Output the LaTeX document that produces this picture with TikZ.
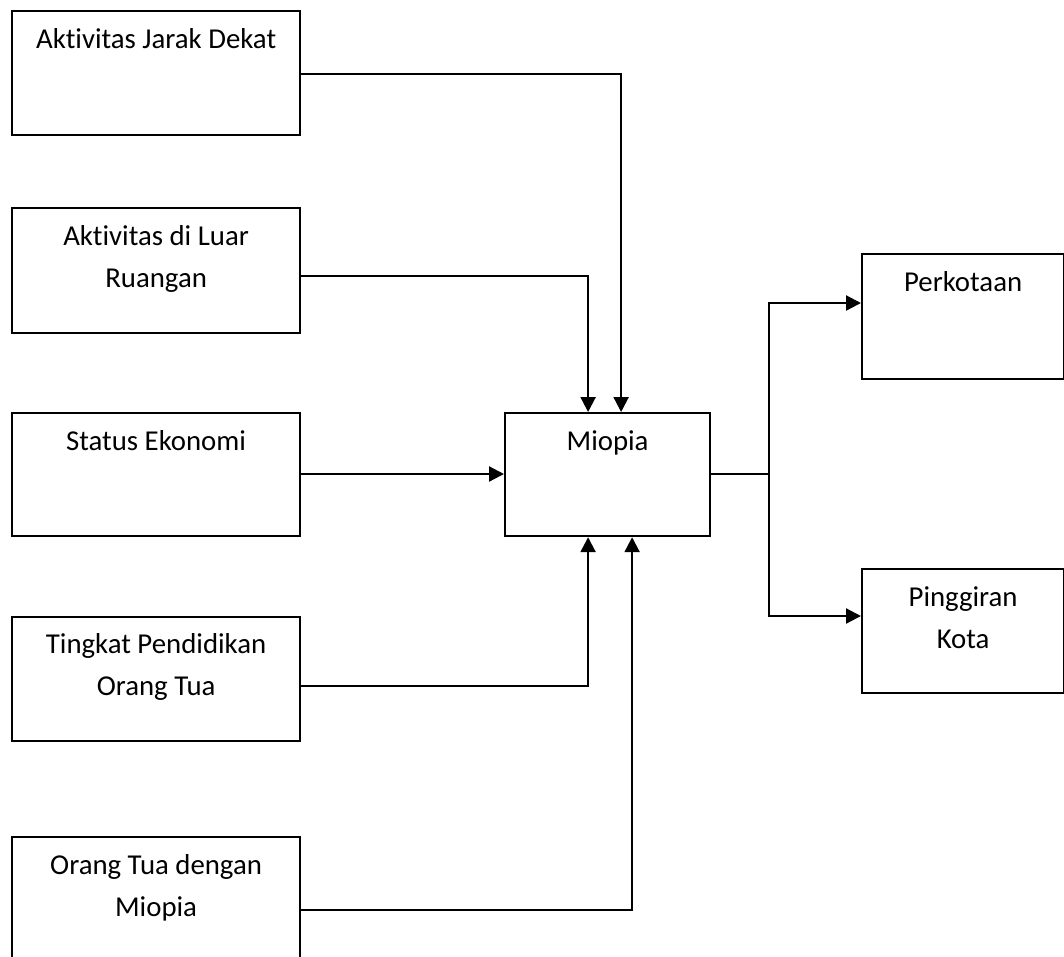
\documentclass[tikz,border=0pt]{standalone}
\usepackage{fontspec}
\setmainfont{Carlito}[RawFeature={-liga;-clig;-dlig}]
\usetikzlibrary{arrows.meta}
\begin{document}
\begin{tikzpicture}[x=1pt,y=-1pt,
  box/.style={draw, line width=2.2pt, inner sep=0pt, anchor=north west},
  lbl/.style={font=\fontsize{28.8}{42}\selectfont, align=center, anchor=base, inner sep=0pt},
  conn/.style={line width=2.2pt},
  arr/.style={conn, -{Triangle[length=15pt,width=15pt]}}]
\useasboundingbox (0,0) rectangle (1064,956);
\clip (0,0) rectangle (1064,956);

% left boxes
\node[box, minimum width=288pt, minimum height=124pt] (b1) at (11,10) {};
\node[box, minimum width=288pt, minimum height=125pt] (b2) at (11,207) {};
\node[box, minimum width=288pt, minimum height=123pt] (b3) at (11,412) {};
\node[box, minimum width=288pt, minimum height=124pt] (b4) at (11,616) {};
\node[box, minimum width=288pt, minimum height=130pt] (b5) at (11,836) {};
% centre and right boxes
\node[box, minimum width=205pt, minimum height=123pt] (mi) at (504,412) {};
\node[box, minimum width=202pt, minimum height=125pt] (pk) at (861,253) {};
\node[box, minimum width=202pt, minimum height=124pt] (pg) at (861,568) {};

% labels (base anchor = baseline of the last line)
\node[lbl] (t1) at ([yshift=-38.5pt]b1.north) {Aktivitas Jarak Dekat};
\node[lbl] (t2) at ([yshift=-80.5pt]b2.north) {Aktivitas di Luar\\Ruangan};
\node[lbl] (t3) at ([yshift=-38.5pt]b3.north) {Status Ekonomi};
\node[lbl] (t4) at ([yshift=-79.5pt]b4.north) {Tingkat Pendidikan\\Orang Tua};
\node[lbl] (t5) at ([yshift=-80.5pt]b5.north) {Orang Tua dengan\\Miopia};
\node[lbl] (tm) at ([yshift=-38.5pt]mi.north) {Miopia};
\node[lbl] (tk) at ([yshift=-38.5pt]pk.north) {Perkotaan};
\node[lbl] (tg) at ([yshift=-80.5pt]pg.north) {Pinggiran\\Kota};

% connectors into Miopia
\draw[arr] (b1.east |- 0,74) -| ([xshift=13.5pt]mi.north);
\draw[arr] (b2.east |- 0,276) -| ([xshift=-19.5pt]mi.north);
\draw[arr] (b3.east |- 0,474) -- (mi.west |- 0,474);
\draw[arr] (b4.east |- 0,686) -| ([xshift=-19.5pt]mi.south);
\draw[arr] (b5.east |- 0,910) -| ([xshift=24.5pt]mi.south);

% connectors out of Miopia
\coordinate (br) at (769,474);
\draw[conn] (mi.east |- 0,474) -- (br);
\draw[arr] (br) |- (pk.west |- 0,303);
\draw[arr] (br) |- (pg.west |- 0,616);
\end{tikzpicture}
\end{document}
